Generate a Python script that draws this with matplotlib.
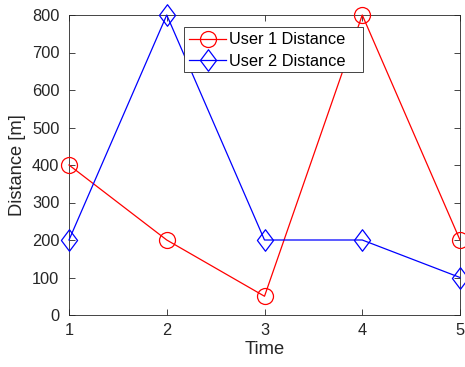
import matplotlib
matplotlib.use("Agg")
import matplotlib.pyplot as plt
from matplotlib.path import Path
from matplotlib.patches import Rectangle

time = [1, 2, 3, 4, 5]
user1_distance = [400, 200, 50, 800, 200]
user2_distance = [200, 800, 200, 200, 100]
x_ticks = [1, 2, 3, 4, 5]
y_ticks = [0, 100, 200, 300, 400, 500, 600, 700, 800]

plt.rcParams['font.family'] = ['Liberation Sans', 'DejaVu Sans']

# tall diamond marker
diamond = Path([(0, 1), (0.75, 0), (0, -1), (-0.75, 0), (0, 1)],
               [Path.MOVETO, Path.LINETO, Path.LINETO, Path.LINETO, Path.CLOSEPOLY])

W, H = 465, 367
L, R, T, B = 69, 460, 15, 315
fig = plt.figure(figsize=(W / 100, H / 100), dpi=100)
ax = fig.add_axes([L / W, 1 - B / H, (R - L) / W, (B - T) / H])

ax.plot(time, user1_distance, color='#ff0000', lw=0.9, marker='o', ms=11.5,
        mfc='none', mec='#ff0000', mew=0.9, label='User 1 Distance', clip_on=False, zorder=3)
ax.plot(time, user2_distance, color='#0000ff', lw=0.9, marker=diamond, ms=15.5,
        mfc='none', mec='#0000ff', mew=0.9, label='User 2 Distance', clip_on=False, zorder=3)

ax.set_xlim(1, 5)
ax.set_ylim(0, 800)
ax.set_xticks(x_ticks)
ax.set_yticks(y_ticks)
ax.tick_params(direction='in', top=True, right=True, length=4, width=0.6,
               colors='#262626', labelsize=11.8, labelcolor='#262626')
ax.tick_params(axis='x', pad=6)
ax.tick_params(axis='y', pad=7)
for s in ax.spines.values():
    s.set_color('#262626')
    s.set_linewidth(0.6)

ax.set_xlabel('Time', fontsize=13.2, color='#262626', labelpad=2)
ax.set_ylabel('Distance [m]', fontsize=13.2, color='#262626', labelpad=4)

# legend box (wider than its contents, with room on the right)
lx0, lx1, ly0, ly1 = 184, 363, 27, 72
frame = Rectangle(((lx0 - L) / (R - L), (B - ly1) / (B - T)),
                  (lx1 - lx0) / (R - L), (ly1 - ly0) / (B - T),
                  transform=ax.transAxes, facecolor='white', edgecolor='#262626',
                  linewidth=0.6, zorder=4, clip_on=False)
ax.add_patch(frame)
leg = ax.legend(loc='upper left',
                bbox_to_anchor=((lx0 - L) / (R - L), (B - ly0) / (B - T)),
                fontsize=11.8, frameon=False, borderpad=0.32,
                handlelength=2.25, handletextpad=0.2, labelspacing=0.4, borderaxespad=0)
leg.set_zorder(5)

fig.savefig('out.png', dpi=100)
